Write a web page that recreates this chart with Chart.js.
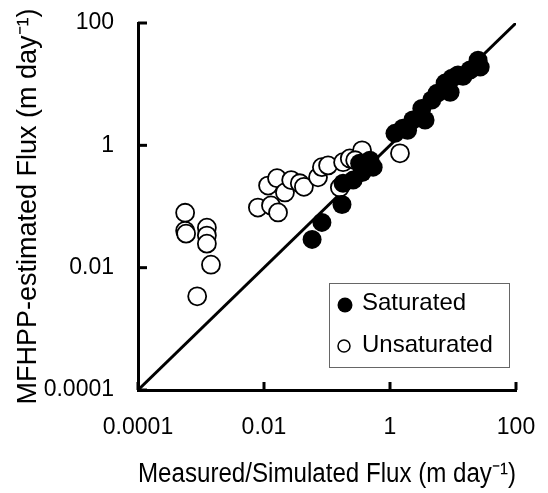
<!DOCTYPE html>
<html>
<head>
<meta charset="utf-8">
<script src="https://cdn.jsdelivr.net/npm/chart.js@4.4.0/dist/chart.umd.min.js"></script>
<style>
  body { margin: 0; background: #fff; }
  #wrap { width: 548px; height: 493px; }
</style>
</head>
<body>
<div id="wrap"><canvas id="myChart" width="548" height="493"></canvas></div>
<script>
(() => {
  'use strict'

  // saturated (filled) points, measured/simulated vs MFHPP-estimated, m/day
  const satX = [0.058, 0.083, 0.173, 0.18, 0.26, 0.36, 0.33, 0.54, 0.48, 1.2, 1.6, 1.9, 2.3, 3.6, 3.2, 4.6, 5.6, 9.0, 7.5, 9.6, 12, 14.4, 18.6, 25, 27]
  const satY = [0.029, 0.055, 0.108, 0.24, 0.27, 0.36, 0.51, 0.44, 0.57, 1.57, 1.9, 1.76, 2.6, 2.6, 4.0, 5.5, 7.1, 7.4, 10.4, 12.5, 14.1, 13.5, 17, 24.7, 19]

  // unsaturated (open) points
  const unsatX = [0.00056, 0.00056, 0.00058, 0.00124, 0.00124, 0.00124, 0.00144, 0.00087,
    0.008, 0.0116, 0.0129, 0.0167, 0.0161, 0.0215, 0.027, 0.037, 0.043, 0.072, 0.083, 0.104, 0.18, 0.23, 0.36, 0.16, 1.44, 0.28]
  const unsatY = [0.079, 0.040, 0.036, 0.045, 0.0335, 0.0247, 0.0112, 0.0034,
    0.096, 0.22, 0.104, 0.08, 0.29, 0.17, 0.27, 0.24, 0.21, 0.30, 0.44, 0.47, 0.53, 0.61, 0.83, 0.205, 0.74, 0.57]

  // 1:1 line ends
  const oneToOne = [0.0001, 100]
  const tickValues = [0.0001, 0.01, 1, 100]

  const FONT = "'Liberation Sans', Arial, sans-serif"
  const pts = (xs, ys) => xs.map((x, i) => ({ x: x, y: ys[i] }))

  const setTicks = (scale) => {
    scale.ticks = tickValues.map(v => ({ value: v }))
  }

  // inward tick marks on both axes
  const innerTicks = {
    id: 'innerTicks',
    afterDatasetsDraw(chart) {
      const { ctx, chartArea, scales } = chart
      ctx.save()
      ctx.strokeStyle = '#000'
      ctx.lineWidth = 3
      tickValues.forEach(v => {
        const px = scales.x.getPixelForValue(v)
        ctx.beginPath()
        ctx.moveTo(px, chartArea.bottom)
        ctx.lineTo(px, chartArea.bottom - 8)
        ctx.stroke()
        const py = scales.y.getPixelForValue(v)
        ctx.beginPath()
        ctx.moveTo(chartArea.left, py)
        ctx.lineTo(chartArea.left + 9, py)
        ctx.stroke()
      })
      ctx.restore()
    }
  }

  // boxed legend inside the plot, lower right
  const boxLegend = {
    id: 'boxLegend',
    afterDraw(chart) {
      const { ctx, chartArea } = chart
      const x0 = chartArea.right - 187
      const y0 = chartArea.bottom - 107
      ctx.save()
      ctx.fillStyle = '#fff'
      ctx.fillRect(x0, y0, 180, 84)
      ctx.strokeStyle = '#666'
      ctx.lineWidth = 1
      ctx.strokeRect(x0 + 0.5, y0 + 0.5, 180, 84)
      ctx.fillStyle = '#000'
      ctx.beginPath()
      ctx.arc(x0 + 16, y0 + 22, 7.5, 0, Math.PI * 2)
      ctx.fill()
      ctx.beginPath()
      ctx.fillStyle = '#fff'
      ctx.lineWidth = 1.5
      ctx.strokeStyle = '#000'
      ctx.arc(x0 + 15, y0 + 63, 6, 0, Math.PI * 2)
      ctx.fill()
      ctx.stroke()
      ctx.fillStyle = '#000'
      ctx.font = '24px ' + FONT
      ctx.textBaseline = 'middle'
      ctx.fillText('Saturated', x0 + 33, y0 + 20)
      ctx.fillText('Unsaturated', x0 + 33, y0 + 62)
      ctx.restore()
    }
  }

  const ctx = document.getElementById('myChart')
  const myChart = new Chart(ctx, {
    type: 'scatter',
    data: {
      datasets: [{
        label: 'Saturated',
        data: pts(satX, satY),
        backgroundColor: '#000',
        borderColor: '#000',
        borderWidth: 0,
        pointRadius: 9.5
      }, {
        label: 'Unsaturated',
        data: pts(unsatX, unsatY),
        backgroundColor: '#fff',
        borderColor: '#000',
        borderWidth: 1.8,
        pointRadius: 9
      }, {
        type: 'line',
        label: '1:1',
        data: pts(oneToOne, oneToOne),
        borderColor: '#000',
        borderWidth: 3,
        pointRadius: 0,
        fill: false
      }]
    },
    options: {
      responsive: false,
      animation: false,
      devicePixelRatio: 1,
      layout: { padding: { left: 0, top: 23, right: 32, bottom: 0 } },
      scales: {
        x: {
          type: 'logarithmic',
          min: 0.0001,
          max: 100,
          afterBuildTicks: setTicks,
          afterFit: (s) => { s.height = 103; s.paddingLeft = 0; s.paddingRight = 0 },
          grid: { display: false, drawTicks: false },
          border: { color: '#000', width: 3 },
          ticks: {
            padding: 24,
            color: '#000',
            font: { family: FONT, size: 23 },
            maxRotation: 0,
            callback: (v) => String(v)
          },
          title: {
            display: true,
            text: 'Measured/Simulated Flux (m day\u207B\u00B9)',
            color: '#000',
            font: { family: FONT, size: 27 },
            padding: { top: 0, bottom: 2 }
          }
        },
        y: {
          type: 'logarithmic',
          min: 0.0001,
          max: 100,
          afterBuildTicks: setTicks,
          afterFit: (s) => { s.width = 138; s.paddingTop = 0; s.paddingBottom = 0 },
          grid: { display: false, drawTicks: false },
          border: { color: '#000', width: 3 },
          ticks: {
            padding: 24,
            color: '#000',
            font: { family: FONT, size: 23 },
            callback: (v) => String(v)
          },
          title: {
            display: true,
            text: 'MFHPP-estimated Flux (m day\u207B\u00B9)',
            color: '#000',
            font: { family: FONT, size: 27 },
            padding: { top: 12, bottom: 0 }
          }
        }
      },
      plugins: {
        legend: { display: false },
        tooltip: { enabled: false }
      }
    },
    plugins: [innerTicks, boxLegend]
  })
})()
</script>
</body>
</html>
